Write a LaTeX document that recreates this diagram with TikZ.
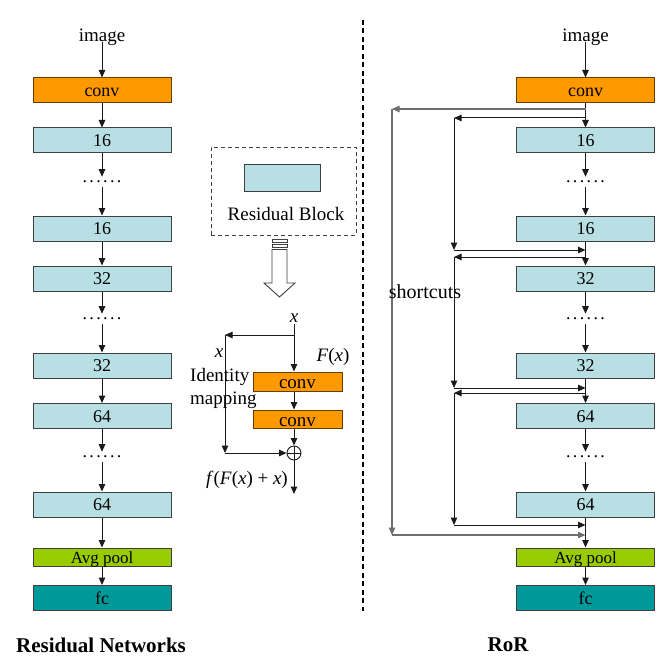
\documentclass[tikz,border=0pt]{standalone}
\usepackage{fontspec}
\setmainfont{Liberation Serif}
\usetikzlibrary{arrows.meta,calc}
\definecolor{convor}{HTML}{FF9900}
\definecolor{lblue}{HTML}{B8DFE3}
\definecolor{pgreen}{HTML}{99CC00}
\definecolor{fcteal}{HTML}{009999}
\definecolor{edgec}{HTML}{404040}
\definecolor{linec}{HTML}{1A1A1A}
\definecolor{outerc}{HTML}{6E6E6E}
\tikzset{
  blk/.style={draw=edgec, line width=1pt, minimum width=138pt, minimum height=25pt,
    inner sep=0pt, text height=12pt, text depth=0pt, font=\fontsize{18}{20}\selectfont},
  convbox/.style={blk, fill=convor, draw=convor!40!black},
  bluebox/.style={blk, fill=lblue},
  poolbox/.style={blk, fill=pgreen, minimum height=18pt, text height=12.5pt,
    font=\fontsize{17}{18}\selectfont},
  fcbox/.style={blk, fill=fcteal},
  smallconv/.style={convbox, minimum width=89pt, minimum height=19pt, text height=14pt,
    font=\fontsize{19}{20}\selectfont},
  dotsn/.style={inner xsep=0pt, inner ysep=4pt, font=\fontsize{18}{20}\selectfont},
  arr/.style={-{Triangle[length=7.5pt,width=6.5pt]}, line width=1pt, draw=linec},
  outerarr/.style={arr, draw=outerc, line width=1.1pt},
  lbl/.style={inner sep=1pt, font=\fontsize{19}{21}\selectfont},
  sumnode/.style={circle, draw=linec, line width=0.9pt, minimum size=14pt, inner sep=0pt,
    path picture={\draw[linec, line width=0.9pt] (path picture bounding box.north) -- (path picture bounding box.south)
      (path picture bounding box.west) -- (path picture bounding box.east);}},
  dashbox/.style={draw=edgec, dashed, dash pattern=on 4pt off 3pt, line width=0.9pt,
    minimum width=145pt, minimum height=88pt, inner sep=0pt},
  divider/.style={draw=black, line width=1.2pt, dash pattern=on 5pt off 3.5pt},
  hollow/.style={draw=edgec, fill=white, line width=0.9pt}
}
\newcommand{\dotrow}{.\kern2.4pt.\kern2.4pt.\kern2.4pt.\kern2.4pt.\kern2.4pt.}
\begin{document}
\begin{tikzpicture}[x=1pt, y=-1pt]
\useasboundingbox (0,0) rectangle (665,671);

% ---------- two columns ----------
\foreach \p/\x in {L/102, R/585.5} {
  \node[lbl] (\p img) at (\x,37) {image};
  \coordinate (\p imgs) at (\x,42);
  \node[convbox] (\p conv) at (\x,90.5) {conv};
  \node[bluebox] (\p 16a) at (\x,140.5) {16};
  \node[dotsn] (\p d1) at (\x,182) {\dotrow};
  \node[bluebox] (\p 16b) at (\x,228.5) {16};
  \node[bluebox] (\p 32a) at (\x,278.5) {32};
  \node[dotsn] (\p d2) at (\x,319) {\dotrow};
  \node[bluebox] (\p 32b) at (\x,365.5) {32};
  \node[bluebox] (\p 64a) at (\x,416) {64};
  \node[dotsn] (\p d3) at (\x,457) {\dotrow};
  \node[bluebox] (\p 64b) at (\x,504.5) {64};
  \node[poolbox] (\p pool) at (\x,557) {Avg pool};
  \node[fcbox] (\p fc) at (\x,598) {fc};
  \draw[arr] (\p imgs) -- (\p conv);
  \draw[arr] (\p conv) -- (\p 16a);
  \draw[arr] (\p 16a) -- (\p d1);
  \draw[arr] (\p d1) -- (\p 16b);
  \draw[arr] (\p 16b) -- (\p 32a);
  \draw[arr] (\p 32a) -- (\p d2);
  \draw[arr] (\p d2) -- (\p 32b);
  \draw[arr] (\p 32b) -- (\p 64a);
  \draw[arr] (\p 64a) -- (\p d3);
  \draw[arr] (\p d3) -- (\p 64b);
  \draw[arr] (\p 64b) -- (\p pool);
  \draw[arr] (\p pool) -- (\p fc);
}

% ---------- RoR shortcuts ----------
\coordinate (o1) at (585.5,109);
\coordinate (o2) at (392,109);
\coordinate (o3) at (392,535);
\coordinate (o4) at (585.5,535);
\draw[outerarr] (o1) -- (o2);
\draw[outerarr] (o2) -- (o3);
\draw[outerarr] (o3) -- (o4);
\foreach \i/\a/\b in {1/118/250, 2/257/388, 3/393/525} {
  \coordinate (s\i a) at (585.5,\a);
  \coordinate (s\i b) at (454,\a);
  \coordinate (s\i c) at (454,\b);
  \coordinate (s\i d) at (585.5,\b);
  \draw[arr] (s\i a) -- (s\i b);
  \draw[arr] (s\i b) -- (s\i c);
  \draw[arr] (s\i c) -- (s\i d);
}
\node[lbl, font=\fontsize{20}{22}\selectfont] (sc) at (425,292) {shortcuts};

% ---------- divider ----------
\coordinate (dv1) at (363,20);
\coordinate (dv2) at (363,611);
\draw[divider] (dv1) -- (dv2);

% ---------- residual block legend ----------
\node[dashbox] (rb) at (283.5,191) {};
\node[bluebox, minimum width=76pt, minimum height=26pt] (rbi) at (282,178) {};
\node[lbl] (rbt) at (286,214) {Residual Block};

% hollow arrow
\draw[hollow] (272,239.5) rectangle (287,242);
\draw[hollow] (272,244.5) rectangle (287,247);
\draw[hollow] (272,249.5) -- (272,283) -- (264,283) -- (279.5,297) -- (295,283) -- (287,283) -- (287,249.5) -- cycle;

% ---------- residual block detail ----------
\node[lbl] (x0) at (294,318) {\textit{x}};
\node[smallconv] (c1) at (297.5,381.5) {conv};
\node[smallconv, minimum height=18pt] (c2) at (297.5,419) {conv};
\node[sumnode] (plus) at (294,453) {};
\coordinate (br) at (294,335);
\coordinate (bl) at (225,335);
\coordinate (bd) at (225,453);
\coordinate (outp) at (294,494);
\draw[arr] (x0.south) -- (x0.south |- c1.north);
\draw[arr] (br) -- (bl);
\draw[arr] (bl) -- (bd);
\draw[arr] (bd) -- (plus.west);
\draw[arr] (c1.south -| x0) -- (c2.north -| x0);
\draw[arr] (c2.south -| x0) -- (plus.north);
\draw[arr] (plus.south) -- (outp);

\node[lbl] (xl) at (219,353) {\textit{x}};
\node[lbl] (fx) at (333,357) {\textit{F}(\textit{x})};
\node[lbl, anchor=west, align=left, font=\fontsize{19}{23}\selectfont] (idm) at (189,388) {Identity\\mapping};
\node[lbl] (ffx) at (247,480) {\textit{f}(\textit{F}(\textit{x}) + \textit{x})};

% ---------- titles ----------
\node[font=\bfseries\fontsize{21}{24}\selectfont] (t1) at (101,645) {Residual Networks};
\node[font=\bfseries\fontsize{21}{24}\selectfont] (t2) at (508,645) {RoR};
\end{tikzpicture}
\end{document}
